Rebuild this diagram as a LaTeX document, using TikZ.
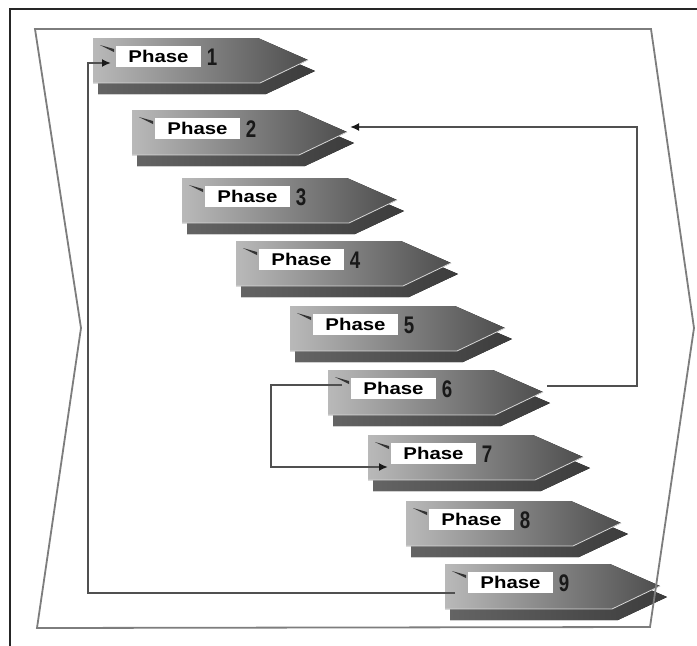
\documentclass[tikz,border=0pt]{standalone}
\usepackage{fontspec}
\newfontfamily\lsans{Liberation Sans}
\usetikzlibrary{arrows.meta,calc}
\definecolor{facel}{RGB}{185,185,185}
\definecolor{facer}{RGB}{78,78,78}
\definecolor{sidel}{RGB}{100,100,100}
\definecolor{sider}{RGB}{60,60,60}
\definecolor{framec}{RGB}{125,125,125}
\definecolor{connc}{RGB}{80,80,80}
\begin{document}
\begin{tikzpicture}[x=1pt,y=-1pt,
  face/.style={left color=facel,right color=facer},
  side/.style={left color=sidel,right color=sider},
  lbl/.style={fill=white,minimum width=85pt,minimum height=21pt,inner sep=0pt,font=\lsans\bfseries\fontsize{17}{17}\selectfont},
  num/.style={inner sep=0pt,text=black!90,font=\lsans\bfseries\fontsize{24}{24}\selectfont},
  conn/.style={draw=connc,line width=1.9pt},
  arr/.style={conn,-{Latex[length=9pt,width=8pt,fill=black!90,color=black!90]}},
  frm/.style={draw=framec,line width=1.8pt,line join=miter}]
\useasboundingbox (0,0) rectangle (697,646);
\fill[white] (0,0) rectangle (697,646);
\draw[line width=2pt,black!85] (10,646) -- (10,9) -- (697,9);

\foreach \n/\x/\y in {1/93/38,2/132/110,3/182/178,4/236/241,5/290/306,6/328/370,7/368/435,8/406/501,9/445/564} {
  \coordinate (p\n) at (\x,\y);
  \begin{scope}[shift={(\x,\y)}]
    \fill[side] (6,11) -- (171,11) -- (222,33) -- (173,56) -- (5,56) -- cycle;
    \fill[face] (0,0) -- (165,0) -- (215,22) -- (167,45) -- (0,45) -- cycle;
    \draw[white!70!gray,line width=0.8pt] (215,22) -- (167,45) -- (0,45);
    \fill[black!80] (7,7) -- (21,11) -- (21,14) -- cycle;
    \node[lbl] (b\n) at (65.5,18.5) {\scalebox{1.2}[1]{Phase}};
    \node[num] (n\n) at (119,19) {\scalebox{0.78}[1]{\n}};
  \end{scope}
}

\coordinate (lx) at (88,0);
\coordinate (rx) at (637,0);
\coordinate (mx) at (271,0);
\coordinate (s9) at ($(p9)+(10,29)$);
\coordinate (e1) at ($(p1)+(18,25)$);
\coordinate (s6r) at ($(p6)+(219,16)$);
\coordinate (e2) at ($(p2)+(218,17)$);
\coordinate (s6l) at ($(p6)+(14,15)$);
\coordinate (e7) at ($(p7)+(20,32)$);

\draw[arr] (s9) -- (s9 -| lx) |- (e1);
\draw[arr] (s6r) -- (s6r -| rx) |- (e2);
\draw[arr] (s6l) -- (s6l -| mx) |- (e7);

\draw[frm] (35,29) -- (651,29) -- (694,328) -- (650,627) -- (37,628) -- (81,328) -- cycle;
\end{tikzpicture}
\end{document}
